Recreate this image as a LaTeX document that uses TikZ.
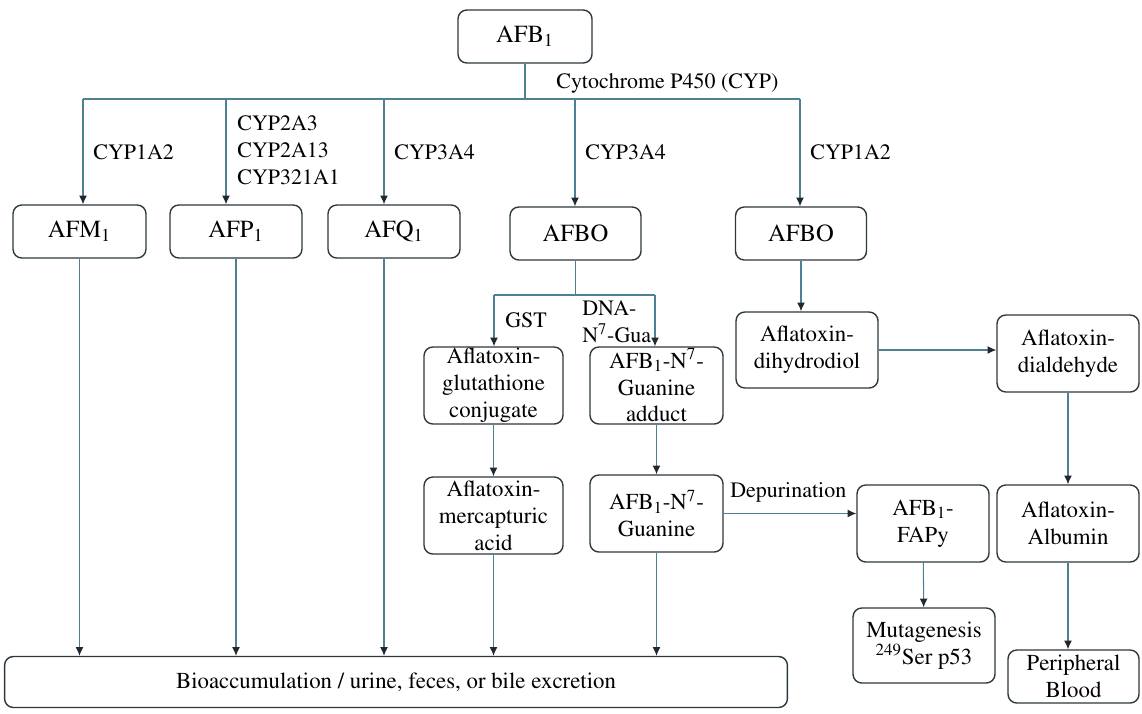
\documentclass[tikz,border=0pt]{standalone}
\usepackage[rgb]{xcolor}
\usepackage[T1]{fontenc}
\usepackage{mathptmx}
\usetikzlibrary{arrows.meta}
\definecolor{linkblue}{RGB}{78,128,148}
\definecolor{boxgrey}{RGB}{45,55,62}
\definecolor{tipgrey}{RGB}{35,40,45}

\begin{document}
\begin{tikzpicture}[x=0.02cm, y=-0.02cm,
  box/.style={draw=boxgrey, line width=0.8pt, rounded corners=5pt, align=center, inner sep=0pt, font=\fontsize{13}{15.3}\selectfont},
  titlebox/.style={box, font=\fontsize{14}{16}\selectfont},
  link/.style={draw=linkblue, line width=0.6pt},
  arrow/.style={link, -{Latex[length=5pt,width=4.5pt,color=tipgrey]}},
  tag/.style={anchor=west, align=left, inner sep=0pt, font=\fontsize{12.5}{15.3}\selectfont}]

\useasboundingbox (0,0) rectangle (1142,713);

% metabolites of AFB1

\path
(525,36.5) node[titlebox, minimum width=2.68cm, minimum height=1.06cm](afb) {AFB\textsubscript{1}}
(79.5,231.5) node[titlebox, minimum width=2.66cm, minimum height=1.06cm](afm) {AFM\textsubscript{1}}
(236,231.5) node[titlebox, minimum width=2.64cm, minimum height=1.06cm](afp) {AFP\textsubscript{1}}
(394,231.5) node[titlebox, minimum width=2.64cm, minimum height=1.06cm](afq) {AFQ\textsubscript{1}}
(575.5,233.5) node[titlebox, minimum width=2.62cm, minimum height=1.06cm](afbo) {AFBO}
(801,233.5) node[titlebox, minimum width=2.62cm, minimum height=1.06cm](afbob) {AFBO};

\path
(493.5,385.5) node[box, minimum width=2.78cm, minimum height=1.54cm](glut) {Aflatoxin-\\glutathione\\conjugate}
(656.5,385.5) node[box, minimum width=2.66cm, minimum height=1.54cm](adduct) {AFB\textsubscript{1}-N\textsuperscript{7}-\\Guanine\\adduct}
(493.5,515.5) node[box, minimum width=2.78cm, minimum height=1.54cm](mercap) {Aflatoxin-\\mercapturic\\acid}
(656.5,513.5) node[box, minimum width=2.66cm, minimum height=1.54cm](guan) {AFB\textsubscript{1}-N\textsuperscript{7}-\\Guanine}
(923,523.5) node[box, minimum width=2.64cm, minimum height=1.54cm](fapy) {AFB\textsubscript{1}-\\FAPy}
(924,645.5) node[box, minimum width=2.84cm, minimum height=1.50cm](mutag) {Mutagenesis\\\textsuperscript{249}Ser p53}
(807,350) node[box, minimum width=2.84cm, minimum height=1.52cm](diol) {Aflatoxin-\\dihydrodiol}
(1068,353.5) node[box, minimum width=2.84cm, minimum height=1.54cm](dial) {Aflatoxin-\\dialdehyde}
(1068,523.5) node[box, minimum width=2.84cm, minimum height=1.54cm](albumin) {Aflatoxin-\\Albumin}
(1073.5,676.5) node[box, minimum width=2.62cm, minimum height=1.06cm](blood) {Peripheral\\Blood}
(396,682) node[box, minimum width=15.66cm, minimum height=1.02cm](bio) {Bioaccumulation / urine, feces, or bile excretion};

%% CYP bus below AFB1
\coordinate (afmtop) at (83,99);
\coordinate (afptop) at (226,99);
\coordinate (afqtop) at (384,99);
\coordinate (afbotop) at (575,99);
\coordinate (afbobtop) at (800,99);
\draw[link] (afb.south) -- (afb.south |- afmtop);
\draw[link] (afmtop) -- (afbobtop);
\foreach \n in {afm,afp,afq,afbo,afbob}
  \draw[arrow] (\n top) -- (\n top |- \n.north);

\node[tag] (cyp) at (556,83) {Cytochrome P450 (CYP)};
\node[tag] (cypm) at (93,152) {CYP1A2};
\node[tag] (cypp) at (237,150) {CYP2A3\\CYP2A13\\CYP321A1};
\node[tag] (cypq) at (394,152) {CYP3A4};
\node[tag] (cypbo) at (585,152) {CYP3A4};
\node[tag] (cypbob) at (810,152) {CYP1A2};

%% AFBO split: GST and DNA
\coordinate (gsttop) at (494,295);
\coordinate (dnatop) at (655,295);
\draw[link] (afbo.south) -- (afbo.south |- gsttop);
\draw[link] (gsttop) -- (dnatop);
\draw[arrow] (gsttop) -- (gsttop |- glut.north);
\draw[arrow] (dnatop) -- (dnatop |- adduct.north);
\node[tag] (gst) at (505,320) {GST};
\node[tag] (dna) at (582,321.5) {DNA-\\N\textsuperscript{7}-Gua};

\draw[arrow] (glut) -- (mercap);
\draw[arrow] (adduct) -- (guan);
\draw[arrow] (guan.east) -- (guan.east -| fapy.west);
\node[tag] (depur) at (730,492) {Depurination};
\draw[arrow] (fapy) -- (mutag);

%% second AFBO branch
\draw[arrow] (afbob.south) -- (afbob.south |- diol.north);
\draw[arrow] (diol.east) -- (diol.east -| dial.west);
\draw[arrow] (dial) -- (albumin);
\draw[arrow] (albumin.south) -- (albumin.south |- blood.north);

%% excretion
\draw[arrow] (afm.south) -- (afm.south |- bio.north);
\draw[arrow] (afp.south) -- (afp.south |- bio.north);
\draw[arrow] (afqtop |- afq.south) -- (afqtop |- bio.north);
\draw[arrow] (mercap.south) -- (mercap.south |- bio.north);
\draw[arrow] (guan.south) -- (guan.south |- bio.north);

\end{tikzpicture}
\end{document}
